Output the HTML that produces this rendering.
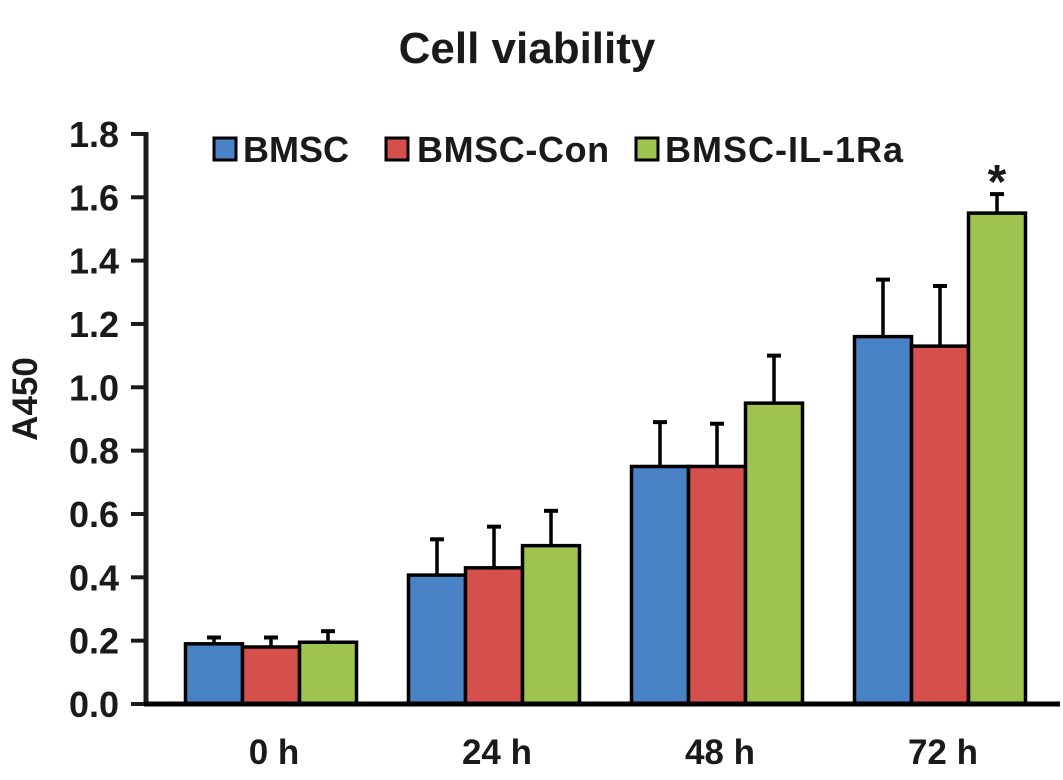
<!DOCTYPE html>
<html><head><meta charset="utf-8">
<style>
html,body{margin:0;padding:0;background:#fff;}
svg{display:block;}
text{font-family:"Liberation Sans",Arial,sans-serif;font-weight:bold;fill:#1a1a1a;}
</style></head>
<body>
<svg id="chart" width="1063" height="780" viewBox="0 0 1063 780" xmlns="http://www.w3.org/2000/svg">
<text x="527" y="63" text-anchor="middle" font-size="44">Cell viability</text>
<text x="0" y="0" text-anchor="middle" font-size="35" transform="translate(37,399) rotate(-90)">A450</text>
<g id="legend">
<g><rect x="214" y="138" width="22" height="22" fill="#4a82c6" stroke="#000" stroke-width="3"/><text x="243" y="162" font-size="36">BMSC</text></g>
<g><rect x="386" y="138" width="22" height="22" fill="#d5504c" stroke="#000" stroke-width="3"/><text x="417" y="162" font-size="36" letter-spacing="0.6">BMSC-Con</text></g>
<g><rect x="636" y="138" width="22" height="22" fill="#9ec34e" stroke="#000" stroke-width="3"/><text x="665" y="162" font-size="36" letter-spacing="1">BMSC-IL-1Ra</text></g>
</g>
<g id="plot"></g>
</svg>
<script>
const categories = ["0 h", "24 h", "48 h", "72 h"];
const seriesNames = ["BMSC", "BMSC-Con", "BMSC-IL-1Ra"];
const bmscValues = [0.19, 0.407, 0.75, 1.16];
const bmscConValues = [0.18, 0.43, 0.75, 1.13];
const bmscIl1raValues = [0.195, 0.50, 0.95, 1.55];
const bmscErrTop = [0.21, 0.52, 0.89, 1.34];
const bmscConErrTop = [0.21, 0.56, 0.885, 1.32];
const bmscIl1raErrTop = [0.23, 0.61, 1.10, 1.61];
const yTicks = [0, 0.2, 0.4, 0.6, 0.8, 1.0, 1.2, 1.4, 1.6, 1.8];
const significance = ["", "", "", "*"];

const NS = "http://www.w3.org/2000/svg";
const plot = document.getElementById("plot");
const y0 = 704, pxPerUnit = 316.7, axisX = 146;
function yScale(v){ return y0 - v * pxPerUnit; }
function xCenter(i){ return 271 + i * 223; }
const barW = 57;
const colors = ["#4a82c6", "#d5504c", "#9ec34e"];
const values = [bmscValues, bmscConValues, bmscIl1raValues];
const errs = [bmscErrTop, bmscConErrTop, bmscIl1raErrTop];
function mk(tag, attrs){ const e = document.createElementNS(NS, tag); for (const k in attrs) e.setAttribute(k, attrs[k]); plot.appendChild(e); return e; }

yTicks.forEach((t, i) => {
  const yy = yScale(t);
  const tk = mk("line", {x1: 131, x2: axisX, y1: yy, y2: yy, stroke: "#1a1a1a", "stroke-width": 4});
  
  
  const lb = mk("text", {x: 119, y: yy + 13, "text-anchor": "end", "font-size": 36});
  lb.textContent = t.toFixed(1);
  
  
});

categories.forEach((c, i) => {
  const cx = xCenter(i);
  values.forEach((arr, s) => {
    const x = cx - 1.5 * barW + s * barW;
    const top = yScale(arr[i]);
    const et = yScale(errs[s][i]);
    const bx = x + barW / 2;
    const el = mk("line", {x1: bx, x2: bx, y1: top, y2: et, stroke: "#000", "stroke-width": 3.5});
    
    
    const cap = mk("line", {x1: bx - 7, x2: bx + 7, y1: et, y2: et, stroke: "#000", "stroke-width": 4});
    
    
    const r = mk("rect", {x: x, y: top, width: barW, height: y0 - top, fill: colors[s], stroke: "#000", "stroke-width": 3.5});
    
    
  });
  const xl = mk("text", {x: cx + 3, y: 764, "text-anchor": "middle", "font-size": 35});
  xl.textContent = c;
  
  
  if (significance[i]) {
    const gx = cx + barW;
    const st = mk("text", {x: gx, y: yScale(bmscIl1raErrTop[i]) + 4, "text-anchor": "middle", "font-size": 48, "font-weight": "normal"});
    st.textContent = significance[i];
    
    
  }
});

const ya = mk("line", {x1: axisX, x2: axisX, y1: yScale(1.8) - 2, y2: y0 + 2, stroke: "#1a1a1a", "stroke-width": 5});


const xa = mk("line", {x1: axisX - 2, x2: 1060, y1: y0, y2: y0, stroke: "#000", "stroke-width": 5});


</script>
</body></html>
